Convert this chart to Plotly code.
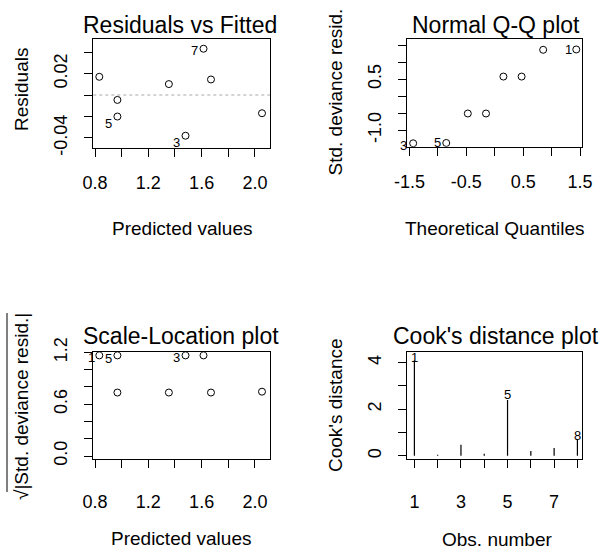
import plotly.graph_objects as go

# ---------------- data ----------------
obs = [1, 2, 3, 4, 5, 6, 7, 8]
fitted = [0.832, 0.968, 1.479, 1.354, 0.968, 1.670, 1.614, 2.053]
residuals = [0.0170, -0.0046, -0.0380, 0.0102, -0.0201, 0.0145, 0.0432, -0.0170]
std_dev_resid = [1.38, -0.51, -1.39, 0.58, -1.38, 0.58, 1.37, -0.51]
theor_quantiles = [-1.434, -0.852, -0.473, -0.153, 0.153, 0.473, 0.852, 1.434]
sqrt_abs_std = [1.165, 0.735, 1.165, 0.735, 1.165, 0.735, 1.165, 0.745]
cooks_d = [4.10, 0.04, 0.47, 0.09, 2.40, 0.21, 0.33, 0.69]

resid_labels = [7, 5, 3]
qq_labels = [1, 3, 5]
sl_labels = [1, 5, 3]
cook_labels = [1, 5, 8]

fit_tickvals = [0.8, 1.0, 1.2, 1.4, 1.6, 1.8, 2.0]
fit_ticktext = ["0.8", "", "1.2", "", "1.6", "", "2.0"]
res_tickvals = [-0.04, -0.02, 0.0, 0.02, 0.04]
res_ticktext = ["-0.04", "", "", "0.02", ""]
qqx_tickvals = [-1.5, -1.0, -0.5, 0.0, 0.5, 1.0, 1.5]
qqx_ticktext = ["-1.5", "", "-0.5", "", "0.5", "", "1.5"]
qqy_tickvals = [-1.0, -0.5, 0.0, 0.5, 1.0, 1.5]
qqy_ticktext = ["-1.0", "", "", "0.5", "", ""]
sl_tickvals = [0.0, 0.2, 0.4, 0.6, 0.8, 1.0, 1.2]
sl_ticktext = ["0.0", "", "", "0.6", "", "", "1.2"]
ck_tickvals = [1, 2, 3, 4, 5, 6, 7, 8]
ck_ticktext = ["1", "", "3", "", "5", "", "7", ""]
cky_tickvals = [0, 1, 2, 3, 4]
cky_ticktext = ["0", "", "2", "", "4"]

titles = ["Residuals vs Fitted", "Normal Q-Q plot", "Scale-Location plot", "Cook's distance plot"]
xtitles = ["Predicted values", "Theoretical Quantiles", "Predicted values", "Obs. number"]
ytitles = ["Residuals", "Std. deviance resid.", "\u221a|Std. deviance resid.|", "Cook's distance"]

# ---------------- layout geometry ----------------
W, H = 602, 550
FONT = "Liberation Sans, Arial, sans-serif"
boxes = [(93.3, 270.0, 39.3, 147.5), (407.3, 582.3, 39.3, 146.7),
         (93.3, 270.0, 352.3, 459.3), (406.7, 582.3, 351.7, 459.3)]
xranges = [[0.787, 2.113], [-1.537, 1.540], [0.787, 2.113], [0.67, 8.21]]
yranges = [[-0.049, 0.052], [-1.49, 1.68], [-0.038, 1.201], [-0.15, 4.47]]
x_standoff = [11, 11, 18, 18]


def px2x(p):
    return p / W


def py2y(p):
    return 1 - p / H


fig = go.Figure()
mk = dict(symbol="circle-open", size=7, color="black", line=dict(width=1, color="black"))

# Panel 1: residuals vs fitted
fig.add_trace(go.Scatter(x=fitted, y=residuals, mode="markers", marker=mk,
                         xaxis="x", yaxis="y", hoverinfo="skip"))
# Panel 2: QQ
order = sorted(range(len(obs)), key=lambda i: std_dev_resid[i])
qq_y = [std_dev_resid[i] for i in order]
fig.add_trace(go.Scatter(x=theor_quantiles, y=qq_y, mode="markers", marker=mk,
                         xaxis="x2", yaxis="y2", hoverinfo="skip"))
# Panel 3: scale-location
fig.add_trace(go.Scatter(x=fitted, y=sqrt_abs_std, mode="markers", marker=mk,
                         xaxis="x3", yaxis="y3", hoverinfo="skip"))
# Panel 4: Cook's distance (vertical lines)
cx, cy = [], []
for o, c in zip(obs, cooks_d):
    cx += [o, o, None]
    cy += [0, c, None]
fig.add_trace(go.Scatter(x=cx, y=cy, mode="lines", line=dict(color="black", width=1.2),
                         xaxis="x4", yaxis="y4", hoverinfo="skip"))

annotations = []
lab_font = dict(family=FONT, size=13, color="black")


def lab(text, x, y, xr, yr, xs, ys):
    annotations.append(dict(text=str(text), x=x, y=y, xref=xr, yref=yr, showarrow=False,
                            xshift=xs, yshift=ys, font=lab_font, xanchor="center", yanchor="middle"))


res_shift = {7: (-9, -2), 5: (-9, -7), 3: (-9, -7)}
for k in resid_labels:
    i = k - 1
    lab(k, fitted[i], residuals[i], "x", "y", *res_shift[k])
qq_shift = {1: (-8, 0), 3: (-10, -2), 5: (-9, 0)}
for k in qq_labels:
    pos = order.index(k - 1)
    lab(k, theor_quantiles[pos], qq_y[pos], "x2", "y2", *qq_shift[k])
sl_shift = {1: (-8, -2), 5: (-9, -3), 3: (-9, -2)}
for k in sl_labels:
    i = k - 1
    lab(k, fitted[i], sqrt_abs_std[i], "x3", "y3", *sl_shift[k])
ck_shift = {1: (0, 3), 5: (0, 5), 8: (0, 4)}
for k in cook_labels:
    i = k - 1
    lab(k, obs[i], cooks_d[i], "x4", "y4", *ck_shift[k])

# titles and axis titles
title_pos = [(180, 24.5), (495.5, 24.5), (181, 336), (496, 336)]
xt_pos = [(181.5, 228), (495, 228), (181, 538.5), (496.7, 539)]
yt_pos = [(22, 90), (335, 92.5), (21, 407), (335, 405)]
for i in range(4):
    annotations.append(dict(text=titles[i], x=px2x(title_pos[i][0]), y=py2y(title_pos[i][1]),
                            xref="paper", yref="paper", showarrow=False, xanchor="center",
                            yanchor="middle", font=dict(family=FONT, size=23, color="black")))
    annotations.append(dict(text=xtitles[i], x=px2x(xt_pos[i][0]), y=py2y(xt_pos[i][1]),
                            xref="paper", yref="paper", showarrow=False, xanchor="center",
                            yanchor="middle", font=dict(family=FONT, size=19, color="black")))
    annotations.append(dict(text=ytitles[i], x=px2x(yt_pos[i][0]), y=py2y(yt_pos[i][1]),
                            xref="paper", yref="paper", showarrow=False, xanchor="center",
                            yanchor="middle", textangle=-90,
                            font=dict(family=FONT, size=19, color="black")))

shapes = [
    # dotted zero line in residual plot
    dict(type="line", xref="x domain", yref="y", x0=0, x1=1, y0=0, y1=0,
         line=dict(color="#a8a8a8", width=1, dash="dot")),
    # overbar of the square-root sign on the scale-location y title
    dict(type="line", xref="paper", yref="paper", x0=px2x(7), x1=px2x(7),
         y0=py2y(313), y1=py2y(492), line=dict(color="black", width=1)),
]

common = dict(showline=True, linecolor="black", linewidth=1, mirror=True, ticks="outside",
              ticklen=8, tickwidth=1, tickcolor="black", showgrid=False, zeroline=False,
              tickfont=dict(family=FONT, size=18, color="black"), fixedrange=True,
              tickmode="array", automargin=False)

tick_sets = [(fit_tickvals, fit_ticktext, res_tickvals, res_ticktext),
             (qqx_tickvals, qqx_ticktext, qqy_tickvals, qqy_ticktext),
             (fit_tickvals, fit_ticktext, sl_tickvals, sl_ticktext),
             (ck_tickvals, ck_ticktext, cky_tickvals, cky_ticktext)]

layout = dict(template="none", width=W, height=H,
              margin=dict(l=0, r=0, t=0, b=0, pad=0, autoexpand=False), showlegend=False,
              paper_bgcolor="white", plot_bgcolor="white", annotations=annotations,
              shapes=shapes, font=dict(family=FONT, color="black"))
for i in range(4):
    l, r, t, b = boxes[i]
    sx = "" if i == 0 else str(i + 1)
    xv, xt, yv, yt = tick_sets[i]
    layout["xaxis" + sx] = dict(common, domain=[px2x(l), px2x(r)], range=xranges[i],
                                anchor="y" + sx, tickvals=xv, ticktext=xt,
                                ticklabelstandoff=x_standoff[i])
    layout["yaxis" + sx] = dict(common, domain=[py2y(b), py2y(t)], range=yranges[i],
                                anchor="x" + sx, tickvals=yv, ticktext=yt, tickangle=-90,
                                ticklabelstandoff=10)

fig.update_layout(**layout)
fig.write_html("out.html", config={"displayModeBar": False},
               post_script="document.body.style.margin='0';")
